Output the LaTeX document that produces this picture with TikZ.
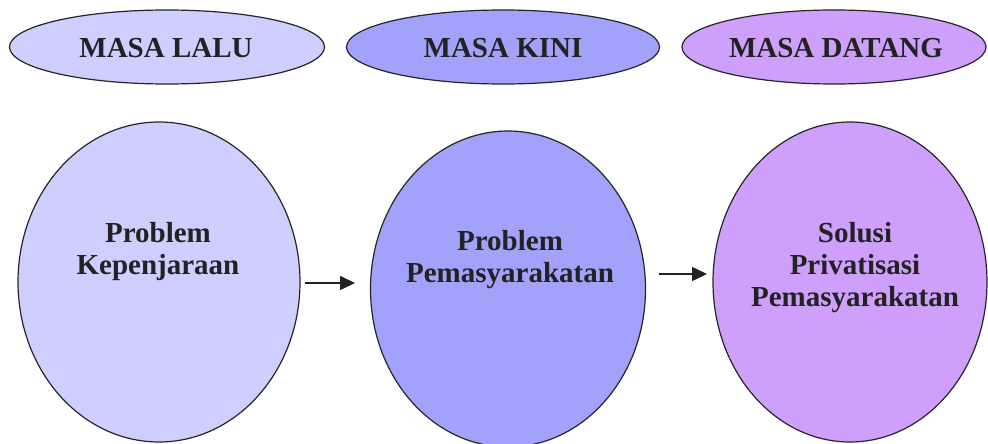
\documentclass[tikz,border=0pt]{standalone}
\usepackage{fontspec}
\setmainfont{Liberation Serif}
\usetikzlibrary{shapes.geometric,arrows.meta}
\definecolor{cpast}{RGB}{206,206,255}
\definecolor{cnow}{RGB}{162,162,250}
\definecolor{cfut}{RGB}{206,160,252}
\definecolor{ctext}{RGB}{34,34,34}
\tikzset{
  oval/.style={ellipse, draw=black!85, line width=1.2pt, inner sep=0pt},
  lbl/.style={text=ctext, font=\bfseries\fontsize{29}{32}\selectfont, align=center, inner sep=0pt},
  flow/.style={-{Triangle[length=15pt,width=14pt]}, line width=1.5pt, draw=ctext, color=ctext}
}
\begin{document}
\begin{tikzpicture}[x=1pt,y=-1pt]
\useasboundingbox[fill=white] (0,0) rectangle (988,444);
% top headers
\node[oval, fill=cpast, minimum width=315pt, minimum height=74pt] (h1) at (167,47) {};
\node[oval, fill=cnow, minimum width=313pt, minimum height=74pt] (h2) at (503,47) {};
\node[oval, fill=cfut, minimum width=304pt, minimum height=74pt] (h3) at (834,47) {};
\node[lbl] (t1) at (166,48) {MASA LALU};
\node[lbl] (t2) at (503,48) {MASA KINI};
\node[lbl] (t3) at (836,48) {MASA DATANG};
% big ellipses
\node[oval, fill=cpast, minimum width=282pt, minimum height=320pt] (e1) at (159,282) {};
\node[oval, fill=cnow, minimum width=275pt, minimum height=316pt] (e2) at (508,289) {};
\node[oval, fill=cfut, minimum width=274pt, minimum height=320pt] (e3) at (850,282) {};
\node[lbl] (l1) at (158,252) {Problem\\Kepenjaraan};
\node[lbl] (l2) at (510,260) {Problem\\Pemasyarakatan};
\node[lbl] (l3) at (855,268) {Solusi\\Privatisasi\\Pemasyarakatan};
% arrows
\coordinate (a1s) at (305,283);
\coordinate (a1e) at (355,283);
\coordinate (a2s) at (659,274);
\coordinate (a2e) at (707,274);
\draw[flow] (a1s) -- (a1e);
\draw[flow] (a2s) -- (a2e);
\end{tikzpicture}
\end{document}
